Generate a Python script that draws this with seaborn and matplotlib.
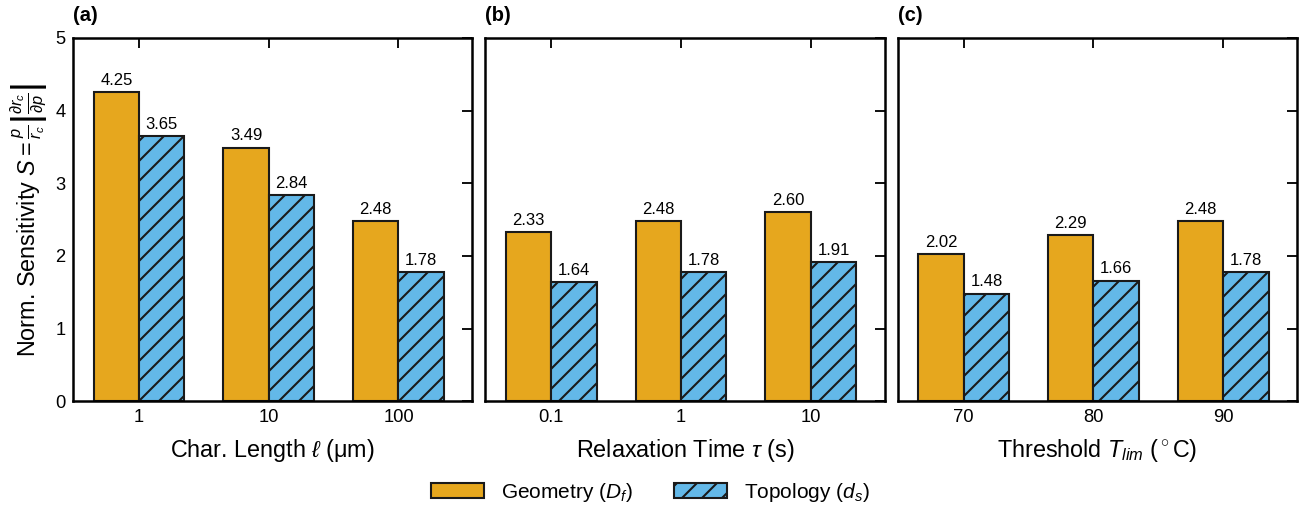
import pandas as pd
import seaborn as sns
import matplotlib.pyplot as plt
from matplotlib.patches import Patch

sns.set_style('white')
plt.rcParams['font.family'] = ['Liberation Sans', 'DejaVu Sans']
plt.rcParams['mathtext.fontset'] = 'custom'
plt.rcParams['mathtext.rm'] = 'Liberation Sans'
plt.rcParams['mathtext.it'] = 'Liberation Sans:italic'
plt.rcParams['mathtext.bf'] = 'Liberation Sans:bold'
for k in ['text.color', 'axes.labelcolor', 'xtick.color', 'ytick.color']:
    plt.rcParams[k] = 'black'
plt.rcParams['hatch.linewidth'] = 1.25

# data
len_labels = ['1', '10', '100']
len_geometry = [4.25, 3.49, 2.48]
len_topology = [3.65, 2.84, 1.78]

tau_labels = ['0.1', '1', '10']
tau_geometry = [2.33, 2.48, 2.60]
tau_topology = [1.64, 1.78, 1.91]

temp_labels = ['70', '80', '90']
temp_geometry = [2.02, 2.29, 2.48]
temp_topology = [1.48, 1.66, 1.78]

series = ['Geometry ($D_f$)', 'Topology ($d_s$)']
colors = ['#E6A71E', '#63B8E8']
edge = '#1a1a1a'

panels = [
    ('(a)', r'Char. Length $\ell$ (μm)', len_labels, len_geometry, len_topology),
    ('(b)', r'Relaxation Time $\tau$ (s)', tau_labels, tau_geometry, tau_topology),
    ('(c)', r'Threshold $T_{lim}$ ($^\circ$C)', temp_labels, temp_geometry, temp_topology),
]

fig, axes = plt.subplots(1, 3, figsize=(13.01 / 1.2, 5.13 / 1.2), dpi=120, sharey=True)
fig.subplots_adjust(left=0.056, right=0.997, bottom=0.218, top=0.926, wspace=0.032)

for ax, (tag, xlabel, labels, geo, topo) in zip(axes, panels):
    df = pd.DataFrame({
        'x': labels + labels,
        'S': geo + topo,
        'kind': [series[0]] * 3 + [series[1]] * 3,
    })
    sns.barplot(data=df, x='x', y='S', hue='kind', order=labels, hue_order=series,
                palette=colors, width=0.7, gap=0, saturation=1, legend=False,
                edgecolor=edge, linewidth=1.25, ax=ax)
    # hatch the topology bars
    for cont, h in zip(ax.containers, ['', '//']):
        for p in cont.patches:
            p.set_hatch(h)
        ax.bar_label(cont, fmt='%.2f', padding=2.5, fontsize=10)
    ax.set_xlim(-0.51, 2.57)
    ax.set_ylim(0, 5)
    ax.set_yticks(range(6))
    ax.set_xlabel(xlabel, fontsize=14, labelpad=7)
    ax.set_ylabel('')
    ax.tick_params(direction='in', top=True, right=True, bottom=False, length=6,
                   width=1.1, labelsize=11, pad=4.5)
    ax.tick_params(axis='x', bottom=False)
    for s in ax.spines.values():
        s.set_linewidth(1.5)
        s.set_color('black')
    ax.text(0.0, 1.035, tag, transform=ax.transAxes, fontsize=12, fontweight='bold',
            ha='left', va='bottom')

axes[0].set_ylabel(r'Norm. Sensitivity $S = \frac{p}{r_c}\left|\frac{\partial r_c}{\partial p}\right|$',
                   fontsize=14, labelpad=3)
for ax in axes[1:]:
    ax.tick_params(labelleft=False)

handles = [Patch(facecolor=colors[0], edgecolor=edge, linewidth=1.25),
           Patch(facecolor=colors[1], edgecolor=edge, linewidth=1.25, hatch='//')]
fig.legend(handles, series, loc='center', bbox_to_anchor=(0.5, 0.04), ncol=2,
           frameon=False, fontsize=12.5, handlelength=2.55, handleheight=0.75,
           handletextpad=0.8, columnspacing=2.0)

fig.savefig('out.png', dpi=120)
